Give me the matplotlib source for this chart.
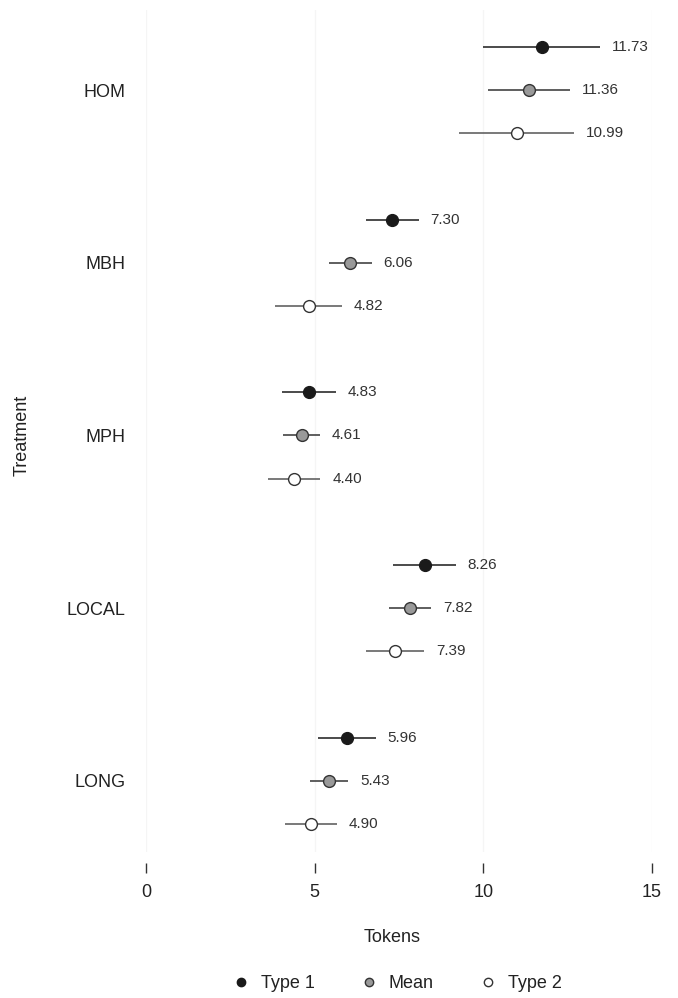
import matplotlib
matplotlib.use('Agg')
import matplotlib.pyplot as plt
import numpy as np
from matplotlib.lines import Line2D

plt.rcParams['font.family'] = ['Liberation Sans', 'DejaVu Sans']

treatments = ['HOM', 'MBH', 'MPH', 'LOCAL', 'LONG']
series = ['Type 1', 'Mean', 'Type 2']

# point estimates per treatment, per series
type1 = [11.73, 7.30, 4.83, 8.26, 5.96]
mean = [11.36, 6.06, 4.61, 7.82, 5.43]
type2 = [10.99, 4.82, 4.40, 7.39, 4.90]

# half-widths of the intervals
type1_err = [1.73, 0.78, 0.79, 0.93, 0.85]
mean_err = [1.21, 0.63, 0.55, 0.63, 0.57]
type2_err = [1.71, 0.99, 0.77, 0.86, 0.77]

values = [type1, mean, type2]
errors = [type1_err, mean_err, type2_err]
fills = ['#1a1a1a', '#999999', 'white']
edges = ['#1a1a1a', '#333333', '#333333']
lines = ['#1a1a1a', '#333333', '#555555']

W, H = 678, 998
fig = plt.figure(figsize=(W / 100, H / 100), dpi=100)
ax = fig.add_axes([146 / W, 1 - 852 / H, 506 / W, 842 / H])

# move the (hidden) bottom spine first, it resets the ticks
for s in ax.spines.values():
    s.set_visible(False)
ax.spines['bottom'].set_position(('outward', 8))

for k in range(3):
    ys = np.arange(len(treatments)) * 4 + k
    ax.errorbar(values[k], ys, xerr=errors[k], fmt='none', ecolor=lines[k],
                elinewidth=1.1, capsize=0, zorder=2)
    ax.plot(values[k], ys, 'o', ms=8.5, mfc=fills[k], mec=edges[k], mew=1.0,
            zorder=3, linestyle='none')
    for v, e, y in zip(values[k], errors[k], ys):
        ax.annotate('%.2f' % v, (v + e, y), xytext=(8.5, 0), textcoords='offset points',
                    ha='left', va='center', fontsize=11, color='#333333')

ax.set_xlim(0, 15)
ax.set_ylim(18.65, -0.857)
ax.set_xticks([0, 5, 10, 15])
ax.set_xticklabels(['0', '5', '10', '15'], fontsize=13, color='#222222')
ax.set_yticks(np.arange(len(treatments)) * 4 + 1)
ax.set_yticklabels(treatments, fontsize=13, color='#222222')
ax.tick_params(axis='y', length=0, pad=15)
ax.tick_params(axis='x', length=7, width=1, color='#333333', pad=8, direction='out')
ax.xaxis.grid(True, color='#f5f5f5', linewidth=0.9)
ax.set_axisbelow(True)

fig.text(392 / W, 1 - 938 / H, 'Tokens', ha='center', va='center', fontsize=13, color='#222222')
fig.text(22 / W, 1 - 435 / H, 'Treatment', ha='center', va='center', rotation=90,
         fontsize=13, color='#222222')

handles = [Line2D([], [], marker='o', linestyle='none', ms=6, mfc=fills[k], mec=edges[k], mew=1.0)
           for k in range(3)]
leg = fig.legend(handles, series, loc='center', bbox_to_anchor=(397 / W, 1 - 984 / H), ncol=3,
                 frameon=False, fontsize=13, handletextpad=0.6, columnspacing=2.5,
                 handlelength=1.0)
for t in leg.get_texts():
    t.set_color('#222222')

fig.savefig('out.png', dpi=100)
